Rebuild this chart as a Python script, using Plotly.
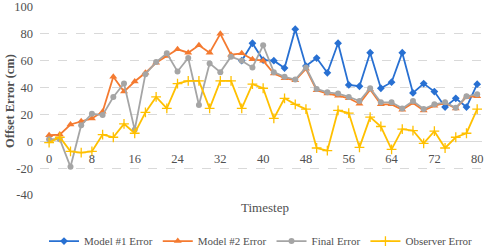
import plotly.graph_objects as go

timesteps = list(range(0, 81, 2))
model1_error = [None] * 18 + [60, 73, 60.5, 60, 54.5, 83.5, 56, 62, 51, 73, 42, 41, 66, 39.5, 44, 66,
                              36, 43, 37, 25.5, 32, 25.5, 42.5]
model2_error = [4.5, 5, 12.5, 15, 17, 22, 48, 37, 44.5, 51, 58.5, 63.5, 68.5, 66, 71.5, 66, 80, 64.5, 65.5, 61,
                60, 50.5, 47, 45.5, 54, 38, 35.5, 34, 32, 28, 38.5, 27.5, 27.5, 23.5, 28.5, 23, 26.5, 28.5, 24.5,
                33, 33.5]
final_error = [1.5, 1.5, -19, 12, 20.5, 19.5, 33, 43, 8.5, 50, 59, 65.5, 52, 62, 27, 58, 51.5, 63, 60, 55,
               71.5, 51.5, 48, 46, 55, 39, 36.5, 35.5, 33, 30, 39.5, 29, 29, 24.5, 30, 24, 27.5, 29, 25, 33.5, 35]
observer_error = [-1, 3, -7.5, -8.5, -7.5, 5, 3, 13, 6, 21.5, 33, 24.5, 43, 45, 45, 24.5, 45, 45, 24.5, 42.5,
                  39.5, 17, 32, 27.5, 24, -5, -7, 23, 21, -4.5, 18, 11, -6, 9, 8, -1.5, 7.5, -5, 3, 6, 24]

x_ticks = [0, 8, 16, 24, 32, 40, 48, 56, 64, 72, 80]
y_ticks = [-40, -20, 0, 20, 40, 60, 80, 100]
y_tick_text = ["-40", "-20", "0", "20", "40", "60", "80", "100"]

FONT = "Liberation Serif"
TXT = "#505050"
BLUE, ORANGE, GRAY, YELLOW = "#2870D2", "#F47A30", "#A5A5A5", "#FFC000"

fig = go.Figure()
fig.add_trace(go.Scatter(x=timesteps, y=model1_error, name="Model #1 Error", mode="lines+markers",
                         line=dict(color=BLUE, width=1.8),
                         marker=dict(symbol="diamond", size=6, color=BLUE)))
fig.add_trace(go.Scatter(x=timesteps, y=model2_error, name="Model #2 Error", mode="lines+markers",
                         line=dict(color=ORANGE, width=1.8),
                         marker=dict(symbol="triangle-up", size=7, color=ORANGE)))
fig.add_trace(go.Scatter(x=timesteps, y=final_error, name="Final Error", mode="lines+markers",
                         line=dict(color=GRAY, width=1.8),
                         marker=dict(symbol="circle", size=6, color=GRAY)))
fig.add_trace(go.Scatter(x=timesteps, y=observer_error, name="Observer Error", mode="lines+markers",
                         line=dict(color=YELLOW, width=1.8),
                         marker=dict(symbol="cross-thin", size=7, color=YELLOW,
                                     line=dict(color=YELLOW, width=1.3))))

fig.update_layout(
    width=484, height=247,
    margin=dict(l=40, r=2, t=7, b=52, autoexpand=False),
    paper_bgcolor="white", plot_bgcolor="white",
    font=dict(family=FONT, size=12, color=TXT),
    showlegend=True,
    legend=dict(orientation="h", x=0.5, xanchor="center", y=-0.245, yanchor="middle",
                font=dict(family=FONT, size=11, color=TXT),
                itemwidth=30, tracegroupgap=0, bgcolor="rgba(0,0,0,0)"),
    xaxis=dict(range=[-1.7, 80.9], tickvals=x_ticks, showgrid=False, zeroline=False,
               showline=False, anchor="free", position=40 / 140, ticks="",
               ticklabelstandoff=8, automargin=False,
               tickfont=dict(family=FONT, size=12.5, color=TXT)),
    yaxis=dict(range=[-40, 100], tickvals=y_ticks, ticktext=y_tick_text,
               showgrid=True, gridcolor="#D9D9D9", griddash="dash", gridwidth=1,
               zeroline=True, zerolinecolor="#D9D9D9", zerolinewidth=1,
               showline=False, ticks="", ticklabelstandoff=6, automargin=False,
               tickfont=dict(family=FONT, size=12.5, color=TXT)),
    annotations=[
        dict(text="<b>Offset Error (cm)</b>", xref="paper", yref="paper", x=0, y=0.5,
             xshift=-30, textangle=-90, showarrow=False, xanchor="center", yanchor="middle",
             font=dict(family=FONT, size=12.5, color=TXT)),
        dict(text="Timestep", xref="paper", yref="paper", x=0.51, y=0,
             yshift=-12, showarrow=False, xanchor="center", yanchor="middle",
             font=dict(family=FONT, size=13, color=TXT)),
    ],
)

fig.write_html("out.html", config={"displayModeBar": False},
               post_script="document.body.style.margin='0';")
